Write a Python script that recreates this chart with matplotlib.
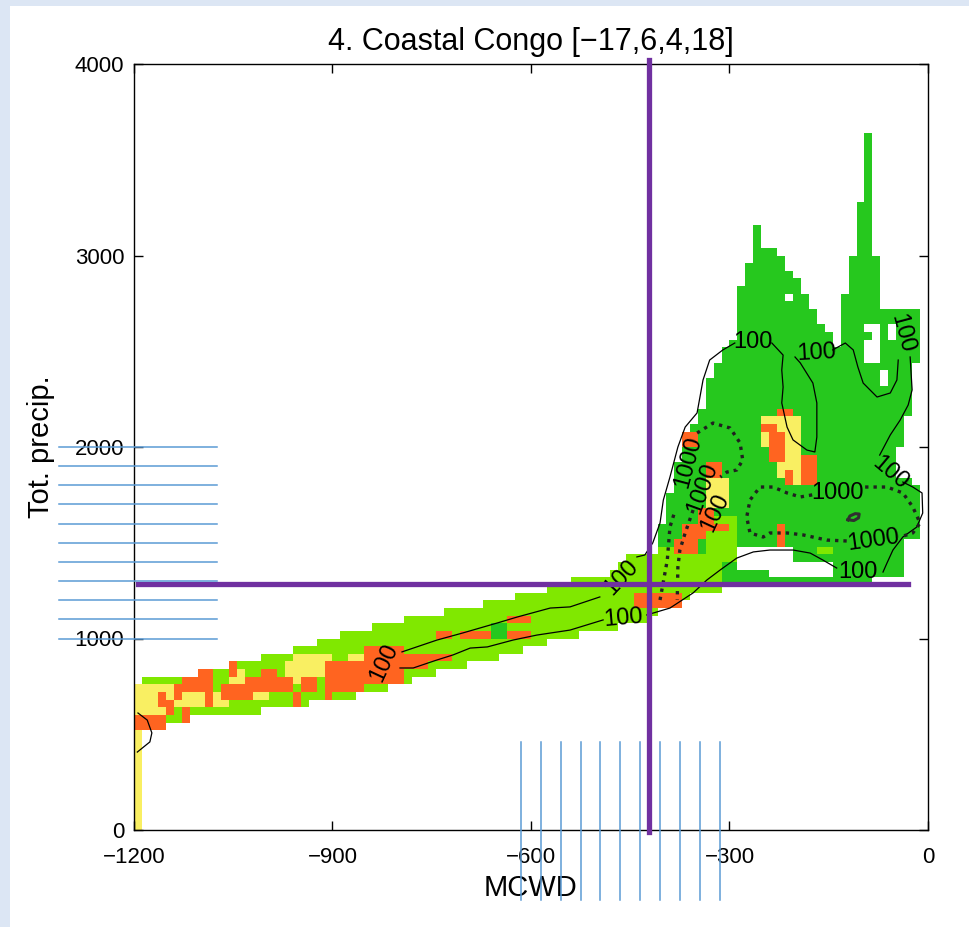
import numpy as np
import matplotlib
matplotlib.use('Agg')
import matplotlib.pyplot as plt
from matplotlib.path import Path
from matplotlib.colors import ListedColormap
from matplotlib.patches import Rectangle

plt.rcParams['font.family'] = ['Liberation Sans', 'DejaVu Sans']

# Rejilla de celdas (100 x 100): MCWD de -1200 a 0, precipitación de 0 a 4000
mcwd_edges = np.linspace(-1200, 0, 101)
precip_edges = np.linspace(0, 4000, 101)

# Contorno de la banda inferior (verde claro)
band_mcwd = [-1200, -1186, -1186, -1140, -1100, -1055, -1005, -960, -923, -877, -828, -789,
             -735, -682, -630, -585, -529, -476, -450, -425, -400,
             -360, -405, -425, -500, -541, -586, -636, -682, -722, -757, -854, -994, -1070,
             -1140, -1189, -1200]
band_precip = [750, 750, 783, 783, 820, 862, 903, 945, 982, 1029, 1065, 1107,
               1140, 1175, 1215, 1253, 1306, 1342, 1426, 1446, 1446,
               1190, 1138, 1097, 1034, 1008, 976, 914, 872, 846, 799, 705, 627, 590,
               575, 548, 548]

# Contorno de la región superior (verde)
green_mcwd = [-413, -413, -394, -375, -348, -334, -322, -310, -289, -289, -277, -277, -264,
              -264, -255, -255, -228, -219, -206, -193, -183, -171, -160, -148, -133, -133,
              -118, -118, -107, -107, -95, -95, -85, -85, -77, -77, -15, -15, -24, -24, -35,
              -42, -47, -47, -12, -12, -38, -38, -133, -289, -314, -345]
green_precip = [1227, 1446, 1708, 1969, 2141, 2313, 2418, 2491, 2574, 2820, 2836, 2961, 2992,
                3149, 3149, 3029, 3029, 2976, 2909, 2836, 2768, 2700, 2648, 2574, 2522, 2804,
                2804, 2992, 2992, 3274, 3274, 3640, 3640, 2992, 2992, 2705, 2705, 2444, 2444,
                2193, 2141, 2000, 1948, 1828, 1812, 1530, 1514, 1306, 1295, 1295, 1253, 1227]

# Parches (mcwd0, mcwd1, precip0, precip1)
lime_boxes = [(-410, -375, 1269, 1478), (-375, -319, 1269, 1410), (-334, -289, 1410, 1619),
              (-160, -150, 1446, 1472)]
yellow_boxes = [(-1200, -1188, 0, 750), (-1188, -1141, 600, 748), (-1141, -1118, 650, 705),
                (-1118, -1065, 637, 705), (-1055, -1040, 783, 825), (-1014, -1002, 705, 747),
                (-960, -899, 825, 898), (-969, -951, 783, 851), (-875, -854, 877, 924),
                (-254, -193, 2021, 2157), (-228, -193, 1843, 2021), (-213, -183, 1791, 1843),
                (-337, -305, 1671, 1830)]
orange_boxes = [(-1057, -1043, 825, 862), (-1103, -1082, 783, 825), (-1127, -1082, 747, 783),
                (-1138, -1127, 705, 747), (-1164, -1153, 668, 705), (-1150, -1141, 627, 663),
                (-1090, -1081, 668, 705), (-1126, -1115, 590, 616), (-1191, -1156, 548, 585),
                (-1065, -1020, 705, 747), (-1029, -969, 747, 783), (-1005, -984, 783, 825),
                (-960, -949, 668, 705), (-914, -899, 705, 747), (-944, -923, 747, 783),
                (-904, -854, 747, 862), (-854, -790, 783, 950), (-790, -760, 840, 920),
                (-753, -729, 872, 903), (-742, -722, 992, 1029), (-707, -662, 992, 1029),
                (-627, -601, 1071, 1112), (-632, -601, 992, 1029), (-445, -375, 1175, 1227),
                (-394, -379, 1201, 1237),
                (-228, -208, 2157, 2193), (-243, -228, 2078, 2104), (-231, -219, 1948, 2073),
                (-193, -171, 1791, 1948), (-213, -204, 1828, 1880), (-365, -357, 2025, 2060),
                (-330, -315, 1843, 1890), (-345, -330, 1603, 1687), (-364, -334, 1514, 1603),
                (-329, -299, 1551, 1582), (-375, -355, 1446, 1514), (-227, -216, 1478, 1582)]
white_boxes = [(-98, -75, 2450, 2640), (-62, -53, 2574, 2626), (-73, -62, 2313, 2392),
               (-216, -206, 2757, 2794), (-285, -205, 1385, 1450), (-240, -145, 1350, 1395)]
green_boxes = [(-657, -636, 1029, 1060), (-95, -85, 2555, 2600)]

# Contorno "100" (tramos separados por NaN donde van las etiquetas)
c100_mcwd = [-795, -742, -703, -651, -621, -571, -541, -496, np.nan,
             -440, -428, -416, -405, -400, -390, -378, -367, -349, -340, -330, -310, -292, np.nan,
             -236, -219, -221, -219, -221, -213, -204, -183, -171, -168, -168, -174, -193, -201, np.nan,
             -144, -125, -113, -106, -98, -77, -57, -47, -45, np.nan,
             -27, -24, -30, -42, -57, -73, np.nan,
             -38, -23, -9, -8, -17, -38, -53, -62, -68, np.nan,
             -138, -159, -178, -204, -239, -264, -289, -314, -334, -355, -390, -425, np.nan,
             -491, -541, -591, -627, -666, -692, -718, -742, -778, -798, np.nan,
             -1194, -1180, -1173, -1176, -1195]
c100_precip = [930, 992, 1029, 1081, 1112, 1159, 1165, 1217, np.nan,
               1426, 1436, 1499, 1603, 1723, 1843, 2000, 2104, 2178, 2350, 2454, 2507, 2543, np.nan,
               2543, 2480, 2402, 2313, 2230, 2104, 2037, 1984, 1974, 2052, 2230, 2334, 2439, 2470, np.nan,
               2507, 2543, 2507, 2418, 2334, 2261, 2282, 2350, 2454, np.nan,
               2470, 2298, 2219, 2141, 2063, 1958, np.nan,
               1817, 1791, 1760, 1655, 1582, 1530, 1462, 1394, 1347, np.nan,
               1368, 1410, 1446, 1462, 1462, 1452, 1420, 1358, 1306, 1238, 1159, 1123, np.nan,
               1097, 1044, 1018, 992, 956, 950, 914, 888, 846, 846, np.nan,
               611, 574, 507, 460, 407]
lab100_mcwd = [-822, -464, -461, -264, -168, -39, -57, -106, -322]
lab100_precip = [872, 1320, 1107, 2550, 2491, 2595, 1864, 1347, 1655]
lab100_rot = [65, 47, 5, 0, 3, -75, -40, 0, 65]

# Contorno "1000" (punteado)
c1000_mcwd = [-405, -394, -390, -382, np.nan,
              -349, -325, -299, -284, -280, -289, -304, -314, np.nan,
              -355, -367, -375, -378, -379, np.nan,
              -175, -193, -213, -234, -254, -269, -274, -269, -249, -239, -213, -189, -153, -122, np.nan,
              -95, -62, -38, -23, -12, -23, -42]
c1000_precip = [1201, 1410, 1582, 1671, np.nan,
                2073, 2125, 2099, 2021, 1932, 1880, 1869, 1843, np.nan,
                1671, 1551, 1462, 1373, 1201, np.nan,
                1750, 1739, 1760, 1791, 1791, 1723, 1634, 1551, 1530, 1551, 1551, 1541, 1514, 1509, np.nan,
                1791, 1791, 1760, 1687, 1603, 1551, 1530]
lab1000_mcwd = [-363, -340, -137, -83]
lab1000_precip = [1922, 1786, 1760, 1514]
lab1000_rot = [75, 70, 0, 8]

# Pequeño contorno cerrado
ring_mcwd = [-121, -118, -110, -104, -105, -112, -121]
ring_precip = [1620, 1640, 1652, 1650, 1630, 1616, 1620]

# Líneas de referencia
purple_mcwd = -422
purple_precip = 1285
blue_precip = [1000, 1100, 1200, 1300, 1400, 1500, 1600, 1700, 1800, 1900, 2000]
blue_mcwd = [-615, -585, -555, -525, -495, -465, -435, -405, -375, -345, -315]

# Construir la rejilla de clases
mc = (mcwd_edges[:-1] + mcwd_edges[1:]) / 2
pc = (precip_edges[:-1] + precip_edges[1:]) / 2
MC, PC = np.meshgrid(mc, pc)
pts = np.column_stack([MC.ravel(), PC.ravel()])
cls = np.zeros(MC.shape, dtype=int)


def fill_poly(xs, ys, code):
    inside = Path(np.column_stack([xs, ys])).contains_points(pts).reshape(MC.shape)
    cls[inside] = code


def fill_boxes(boxes, code):
    for m0, m1, p0, p1 in boxes:
        cls[(MC >= m0 - 3) & (MC <= m1 + 3) & (PC >= p0 - 10) & (PC <= p1 + 10)] = code


fill_poly(band_mcwd, band_precip, 2)
fill_poly(green_mcwd, green_precip, 1)
fill_boxes(lime_boxes, 2)
fill_boxes(yellow_boxes, 3)
fill_boxes(orange_boxes, 4)
fill_boxes(white_boxes, 0)
fill_boxes(green_boxes, 1)

# Figura
fig = plt.figure(figsize=(9.7, 9.27), dpi=100)
fig.patch.set_facecolor('white')
fig.add_artist(Rectangle((0, 0), 10 / 970, 1, transform=fig.transFigure,
                         facecolor='#dce6f4', edgecolor='none', zorder=0))
fig.add_artist(Rectangle((0, 1 - 6 / 927), 1, 6 / 927, transform=fig.transFigure,
                         facecolor='#dce6f4', edgecolor='none', zorder=0))

ax = fig.add_axes([134 / 970, 1 - 830 / 927, 794 / 970, 766 / 927])

cmap = ListedColormap(['#26c81e', '#80e800', '#f9ef62', '#ff6420'])
ax.pcolormesh(mcwd_edges, precip_edges, np.ma.masked_equal(cls, 0),
              cmap=cmap, vmin=0.5, vmax=4.5, zorder=1)

# Contornos
ax.plot(c100_mcwd, c100_precip, color='black', lw=0.9, zorder=3)
ax.plot(c1000_mcwd, c1000_precip, color='#202020', lw=2.4, linestyle=(0, (1, 1.5)), zorder=3)
ax.plot(ring_mcwd, ring_precip, color='#303030', lw=2.2, zorder=3)
for x, y, r in zip(lab100_mcwd, lab100_precip, lab100_rot):
    ax.text(x, y, '100', rotation=r, ha='center', va='center', fontsize=17, zorder=4)
for x, y, r in zip(lab1000_mcwd, lab1000_precip, lab1000_rot):
    ax.text(x, y, '1000', rotation=r, ha='center', va='center', fontsize=17, zorder=4)

# Ejes
ax.set_xlim(-1200, 0)
ax.set_ylim(0, 4000)
ax.set_xticks([-1200, -900, -600, -300, 0])
ax.set_yticks([0, 1000, 2000, 3000, 4000])
ax.tick_params(direction='in', top=True, right=True, length=6.5, width=1, labelsize=16)
ax.tick_params(axis='x', pad=12)
ax.tick_params(axis='y', pad=7)
for s in ax.spines.values():
    s.set_linewidth(1.0)

ax.set_title('4. Coastal Congo [\u221217,6,4,18]', fontsize=22, pad=10)
ax.set_xlabel('MCWD', fontsize=21)
ax.set_ylabel('Tot. precip.', fontsize=21)
ax.xaxis.set_label_coords(0.5, -0.057)
ax.yaxis.set_label_coords(-0.1, 0.5)

# Líneas moradas
ax.axvline(purple_mcwd, ymin=-0.003, ymax=1.005, color='#7030a0', lw=3.8,
           clip_on=False, zorder=8)
ax.axhline(purple_precip, xmin=0.005, xmax=0.975, color='#7030a0', lw=3.8,
           clip_on=False, zorder=8)

# Líneas azules
for p in blue_precip:
    ax.axhline(p, xmin=-0.094, xmax=0.1045, color='#5b9bd5', lw=1.1, clip_on=False, zorder=10)
for m in blue_mcwd:
    ax.axvline(m, ymin=-0.091, ymax=0.115, color='#5b9bd5', lw=1.1, clip_on=False, zorder=10)

fig.savefig('out.png', dpi=100, facecolor=fig.get_facecolor())
